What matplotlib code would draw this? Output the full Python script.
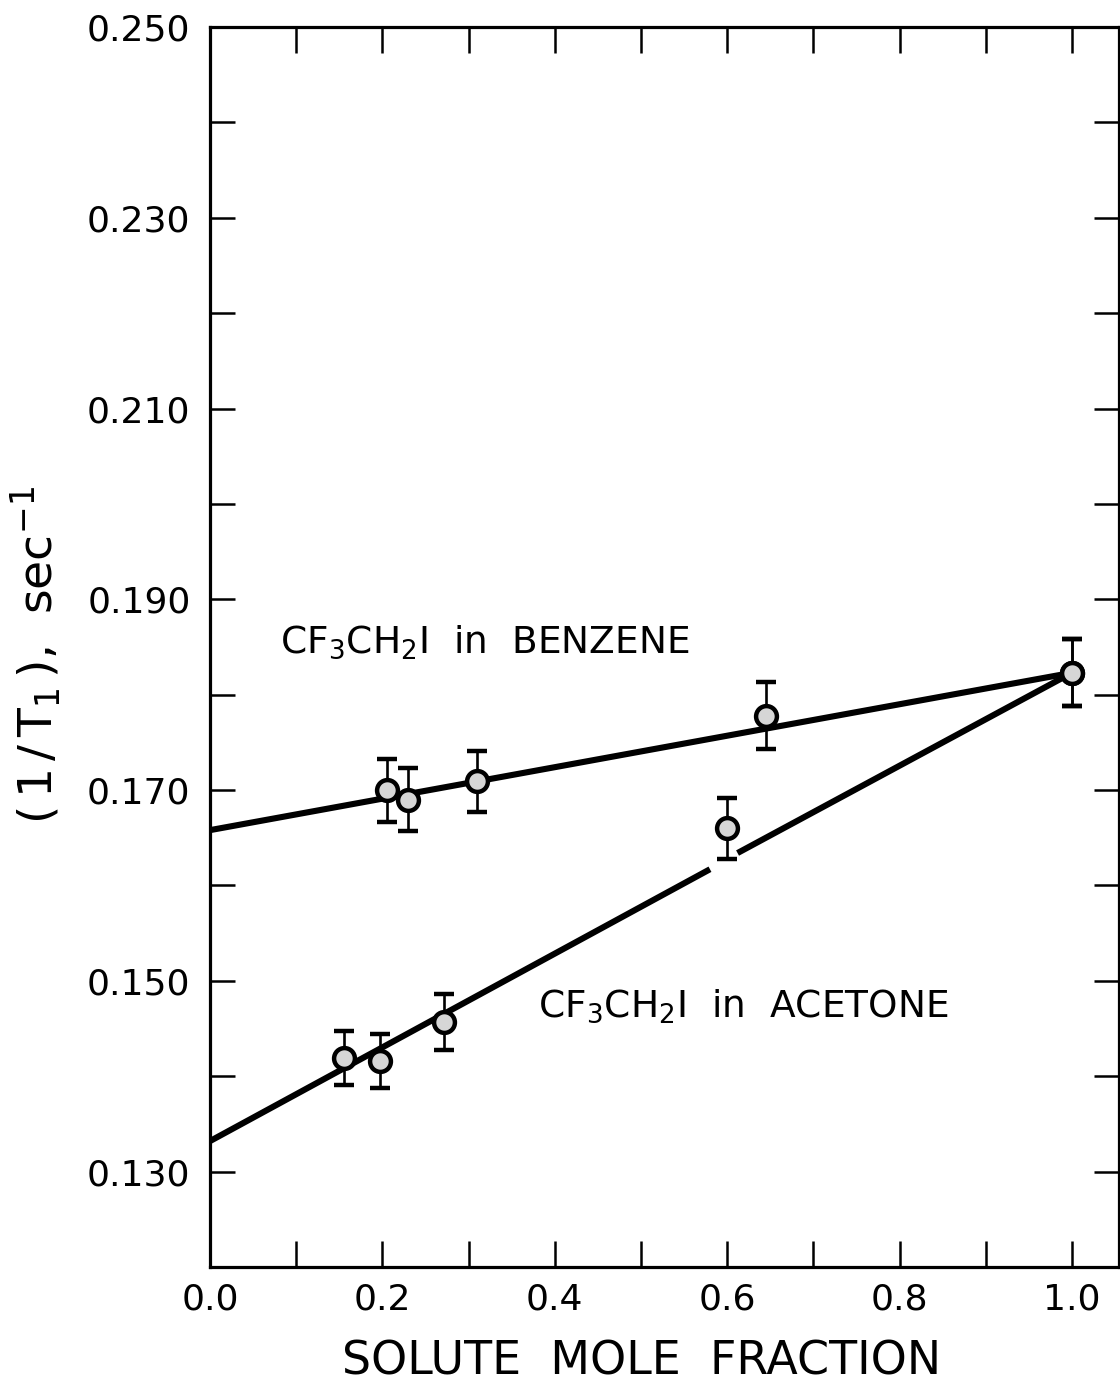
"""
Relaxação 1/T1 do CF3CH2I em função da fração molar do soluto
(benzeno e acetona) — reconstrução do gráfico.
"""

import numpy as np
import matplotlib
matplotlib.use("Agg")
import matplotlib.pyplot as plt
from matplotlib.ticker import FormatStrFormatter

plt.rcParams["font.family"] = ["DejaVu Sans"]
plt.rcParams["mathtext.default"] = "regular"

# ============================================================
# DADOS
# ============================================================

# CF3CH2I em benzeno
benz_x   = [0.205, 0.230, 0.310, 0.645, 1.000]
benz_y   = [0.1700, 0.1690, 0.1709, 0.1778, 0.1823]
benz_err = [0.0033, 0.0033, 0.0032, 0.0035, 0.0035]

# CF3CH2I em acetona
acet_x   = [0.156, 0.197, 0.272, 0.600, 1.000]
acet_y   = [0.1419, 0.1416, 0.1457, 0.1660, 0.1823]
acet_err = [0.0028, 0.0028, 0.0029, 0.0032, 0.0035]

# retas ajustadas (extremos; a da acetona é interrompida perto de x=0.6)
benz_fit_x = [0.0, 1.0]
benz_fit_y = [0.1658, 0.1823]
acet_fit1_x = [0.0, 0.580]
acet_fit1_y = [0.1332, 0.1617]
acet_fit2_x = [0.612, 1.0]
acet_fit2_y = [0.1634, 0.1823]

x_ticks_lbl = [0.0, 0.2, 0.4, 0.6, 0.8, 1.0]
x_ticks_min = [0.1, 0.3, 0.5, 0.7, 0.9]
y_ticks_lbl = [0.130, 0.150, 0.170, 0.190, 0.210, 0.230, 0.250]
y_ticks_min = [0.140, 0.160, 0.180, 0.200, 0.220, 0.240]

# ============================================================
# FIGURA
# ============================================================

W, H = 1120, 1389
fig = plt.figure(figsize=(W / 100, H / 100), dpi=100)
ax = fig.add_axes([210 / W, 1 - 1267 / H, (1119 - 210) / W, (1267 - 27) / H])

ax.set_xlim(0.0, 1.0545)
ax.set_ylim(0.120, 0.250)

# retas
for fx, fy in [(benz_fit_x, benz_fit_y), (acet_fit1_x, acet_fit1_y), (acet_fit2_x, acet_fit2_y)]:
    ax.plot(fx, fy, color="black", lw=4.4, solid_capstyle="butt", zorder=2)

# pontos com barras de erro
for xs, ys, es in [(benz_x, benz_y, benz_err), (acet_x, acet_y, acet_err)]:
    ax.errorbar(xs, ys, yerr=es, fmt="o", ms=15, mfc="#d6d6d6", mec="black",
                mew=3.2, ecolor="black", elinewidth=1.9, capsize=7,
                capthick=2.4, zorder=3)

# rótulos das curvas
ax.text(0.081, 0.1844, r"CF$_3$CH$_2$I  in  BENZENE", fontsize=27,
        ha="left", va="baseline")
ax.text(0.380, 0.1462, r"CF$_3$CH$_2$I  in  ACETONE", fontsize=27,
        ha="left", va="baseline")

# eixos / ticks
ax.set_xticks(x_ticks_lbl)
ax.set_xticks(x_ticks_min, minor=True)
ax.xaxis.set_major_formatter(FormatStrFormatter("%.1f"))
ax.set_yticks(y_ticks_lbl)
ax.set_yticks(y_ticks_min, minor=True)
ax.yaxis.set_major_formatter(FormatStrFormatter("%.3f"))

ax.tick_params(which="both", direction="in", top=True, right=True,
               width=1.8, labelsize=26)
ax.tick_params(axis="y", which="both", length=18, pad=14)
ax.tick_params(axis="x", which="both", length=19, pad=11)
for sp in ax.spines.values():
    sp.set_linewidth(2.3)

fig.text(642 / W, 1 - 1362 / H, "SOLUTE  MOLE  FRACTION", fontsize=33,
         ha="center", va="center")
fig.text(36 / W, 1 - 655 / H, r"$(\,1\,/\,T_1\,)$,  sec$^{-1}$", fontsize=34,
         rotation=90, ha="center", va="center")

fig.savefig("out.png", dpi=100)
plt.close(fig)
